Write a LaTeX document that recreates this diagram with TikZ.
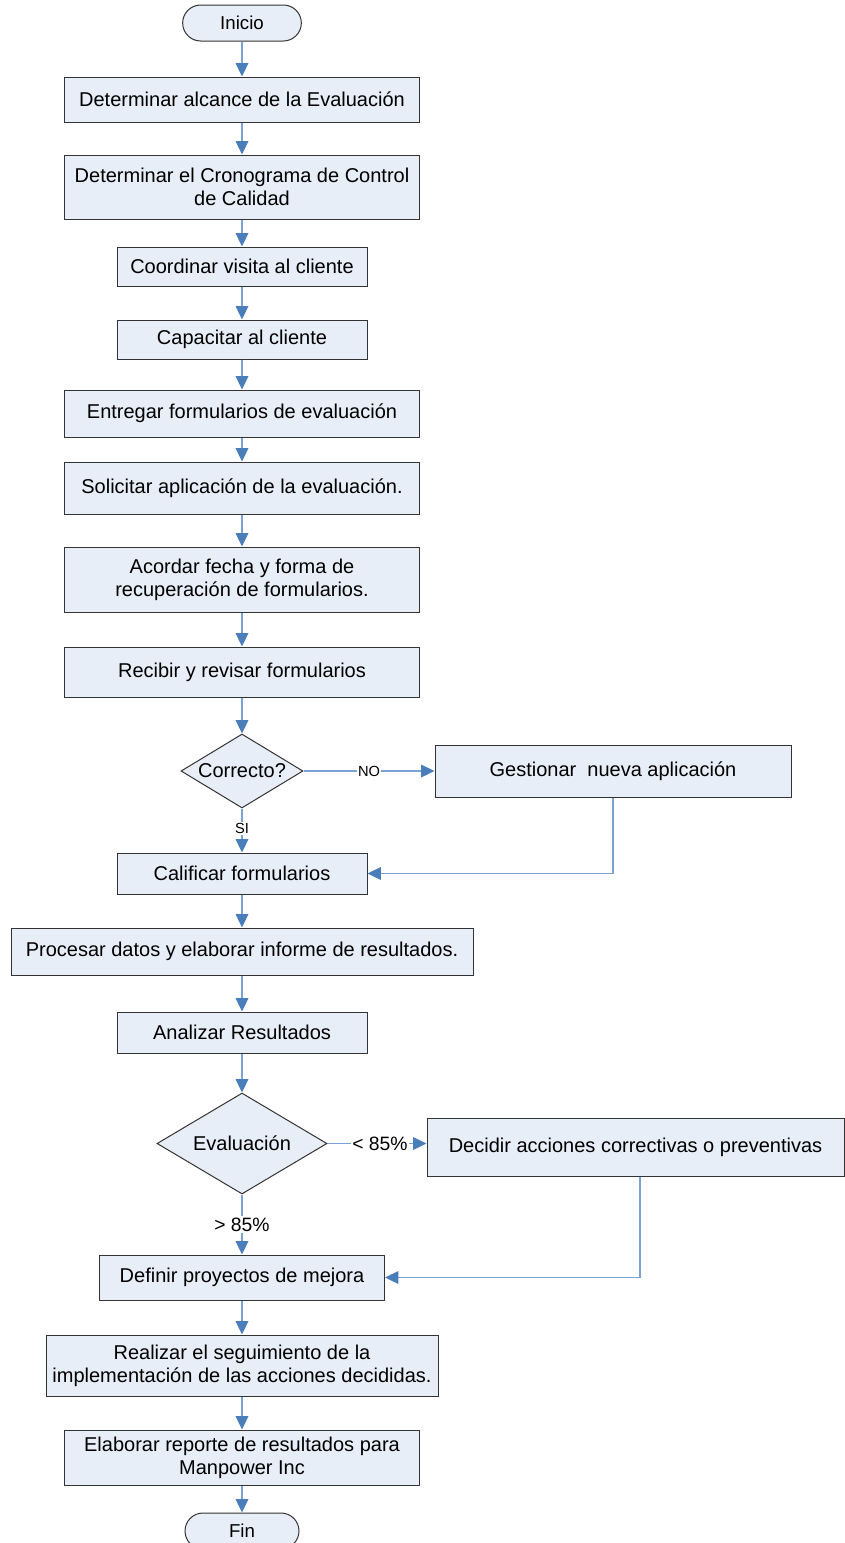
\documentclass[tikz,border=0pt]{standalone}
\usepackage{fontspec}
\setmainfont{Liberation Sans}
\usetikzlibrary{arrows.meta,positioning,shapes.geometric}
\definecolor{Caja}{HTML}{E8EEF7}
\definecolor{Borde}{HTML}{333333}
\definecolor{Linea}{HTML}{7AA2D4}
\definecolor{Punta}{HTML}{4A7EBB}
\tikzset{
  proceso/.style={
    draw=Borde, line width=0.75pt, fill=Caja, align=center,
    inner sep=2pt, font=\fontsize{15}{17.5}\selectfont
  },
  terminal/.style={
    proceso, rounded corners=13.5pt, minimum width=89pt, minimum height=27pt,
    font=\fontsize{14}{16}\selectfont
  },
  decision/.style={
    diamond, draw=Borde, line width=0.75pt, fill=Caja, inner sep=0pt,
    aspect=1.65, font=\fontsize{15}{17.5}\selectfont
  },
  flujo/.style={-{Triangle[length=10pt,width=9.5pt,color=Punta]}, draw=Linea, line width=0.8pt},
  etiqueta/.style={fill=white, inner sep=1pt, font=\fontsize{11}{13}\selectfont},
  etiquetag/.style={fill=white, inner sep=1pt, font=\fontsize{14.5}{16}\selectfont}
}

\begin{document}
\begin{tikzpicture}[x=0.75pt,y=-0.75pt]
    \useasboundingbox (0,0) rectangle (845,1543);
    \node[terminal] (inicio) at (242,23) {Inicio};
    \node[proceso,minimum width=266pt,minimum height=33.75pt] (alcance) at (242,99.5) {Determinar alcance de la Evaluación};
    \node[proceso,minimum width=266pt,minimum height=48pt] (cronograma) at (242,187) {Determinar el Cronograma de Control\\de Calidad};
    \node[proceso,minimum width=187.5pt,minimum height=29.25pt] (visita) at (242,266.5) {Coordinar visita al cliente};
    \node[proceso,minimum width=187.5pt,minimum height=29.25pt] (capacitar) at (242,339.5) {Capacitar al cliente};
    \node[proceso,minimum width=266pt,minimum height=35.25pt] (entregar) at (242,413.5) {Entregar formularios de evaluación};
    \node[proceso,minimum width=266pt,minimum height=39pt] (solicitar) at (242,488) {Solicitar aplicación de la evaluación.};
    \node[proceso,minimum width=266pt,minimum height=48.75pt] (acordar) at (242,579.5) {Acordar fecha y forma de\\recuperación de formularios.};
    \node[proceso,minimum width=266pt,minimum height=37.5pt] (recibir) at (242,672) {Recibir y revisar formularios};
    \node[decision,minimum width=91.5pt,minimum height=55.5pt] (correcto) at (242,771) {Correcto?};
    \node[proceso,minimum width=267pt,minimum height=39pt] (gestionar) at (613,771) {Gestionar\ \ nueva aplicación};
    \node[proceso,minimum width=187.5pt,minimum height=30.75pt] (calificar) at (242,873.5) {Calificar formularios};
    \node[proceso,minimum width=346.5pt,minimum height=35.25pt] (procesar) at (242,951.5) {Procesar datos y elaborar informe de resultados.};
    \node[proceso,minimum width=187.5pt,minimum height=30.75pt] (analizar) at (242,1032.5) {Analizar Resultados};
    \node[decision,minimum width=127.5pt,minimum height=75.75pt,aspect=1.68] (evaluacion) at (242,1143.5) {Evaluación};
    \node[proceso,minimum width=312.75pt,minimum height=43.5pt] (decidir) at (635.5,1147) {Decidir acciones correctivas o preventivas};
    \node[proceso,minimum width=213.75pt,minimum height=33.75pt] (definir) at (242,1277.5) {Definir proyectos de mejora};
    \node[proceso,minimum width=294pt,minimum height=45.75pt] (realizar) at (242,1365.5) {Realizar el seguimiento de la\\implementación de las acciones decididas.};
    \node[proceso,minimum width=266pt,minimum height=41.25pt] (elaborar) at (242,1457.5) {Elaborar reporte de resultados para\\Manpower Inc};
    \node[terminal,minimum width=85.5pt] (fin) at (242,1531) {Fin};
    \coordinate (bajagestion) at (613,873.5);
    \coordinate (bajadecidir) at (640,1277.5);
    \draw[flujo] (inicio)--(alcance);
    \draw[flujo] (alcance)--(cronograma);
    \draw[flujo] (cronograma)--(visita);
    \draw[flujo] (visita)--(capacitar);
    \draw[flujo] (capacitar)--(entregar);
    \draw[flujo] (entregar)--(solicitar);
    \draw[flujo] (solicitar)--(acordar);
    \draw[flujo] (acordar)--(recibir);
    \draw[flujo] (recibir)--(correcto);
    \draw[flujo] (correcto)--node[etiqueta]{NO}(gestionar);
    \draw[flujo] (correcto)--node[etiqueta,pos=0.45]{SI}(calificar);
    \draw[flujo] (gestionar.south -| bajagestion)--(bajagestion)--(calificar.east);
    \draw[flujo] (calificar)--(procesar);
    \draw[flujo] (procesar)--(analizar);
    \draw[flujo] (analizar)--(evaluacion);
    \draw[flujo] (evaluacion.east)--node[etiquetag,pos=0.53]{< 85\%}(evaluacion.east -| decidir.west);
    \draw[flujo] (evaluacion)--node[etiquetag,pos=0.5]{> 85\%}(definir);
    \draw[flujo] (decidir.south -| bajadecidir)--(bajadecidir)--(definir.east);
    \draw[flujo] (definir)--(realizar);
    \draw[flujo] (realizar)--(elaborar);
    \draw[flujo] (elaborar)--(fin);
\end{tikzpicture}
\end{document}
